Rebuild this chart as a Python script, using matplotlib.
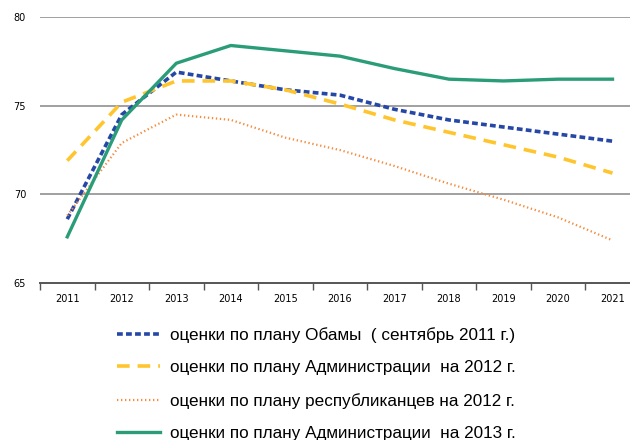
import numpy as np
import matplotlib
matplotlib.use("Agg")
from matplotlib import pyplot as plt

years = ["2011", "2012", "2013", "2014", "2015", "2016", "2017", "2018", "2019", "2020", "2021"]
obama = [68.6, 74.5, 76.9, 76.4, 75.9, 75.6, 74.8, 74.2, 73.8, 73.4, 73.0]
admin_2012 = [71.9, 75.2, 76.4, 76.4, 75.9, 75.1, 74.2, 73.5, 72.8, 72.1, 71.2]
republican = [68.8, 72.9, 74.5, 74.2, 73.2, 72.5, 71.6, 70.6, 69.7, 68.7, 67.4]
admin_2013 = [67.6, 74.2, 77.4, 78.4, 78.1, 77.8, 77.1, 76.5, 76.4, 76.5, 76.5]

labels = ["оценки по плану Обамы  ( сентябрь 2011 г.)",
          "оценки по плану Администрации  на 2012 г.",
          "оценки по плану республиканцев на 2012 г.",
          "оценки по плану Администрации  на 2013 г."]

fig = plt.figure(figsize=(6.3, 4.4), dpi=100)
ax = fig.add_axes([0.0635, 0.357, 0.952, 0.604])
x = np.arange(len(years))

l1, = ax.plot(x, obama, color="#2547a6", lw=2.6, linestyle=(0, (1.6, 0.9)))
l2, = ax.plot(x, admin_2012, color="#ffc52e", lw=2.6, linestyle=(0, (3.5, 2.2)))
l3, = ax.plot(x, republican, color="#f58b3c", lw=1.6, linestyle=(0, (0.6, 1.2)))
l4, = ax.plot(x, admin_2013, color="#2a9d78", lw=2.4)

ax.set_xlim(-0.5, 10.5)
ax.set_ylim(65, 80)
ax.set_yticks([65, 70, 75, 80])
for v in [70, 75, 80]:
    ax.axhline(v, color="#a0a0a0", lw=1.4, zorder=0)

ax.set_xticks(x)
ax.set_xticklabels(years, fontsize=7)
ax.set_xticks(np.arange(-0.5, 10.6, 1), minor=True)
ax.tick_params(axis="x", which="major", length=0, pad=8)
ax.tick_params(axis="x", which="minor", length=5, direction="out", color="#555555", width=1)
ax.tick_params(axis="y", length=0, labelsize=7, pad=10)

for s in ["top", "right", "left"]:
    ax.spines[s].set_visible(False)
ax.spines["bottom"].set_color("#555555")
ax.spines["bottom"].set_linewidth(1.4)

fig.legend([l1, l2, l3, l4], labels, loc="upper left", bbox_to_anchor=(0.175, 0.272),
           frameon=False, handlelength=2.5, handletextpad=0.6,
           labelspacing=1.02, borderaxespad=0,
           prop={"family": "Liberation Sans", "size": 12.3})

fig.savefig("out.png", dpi=100)
